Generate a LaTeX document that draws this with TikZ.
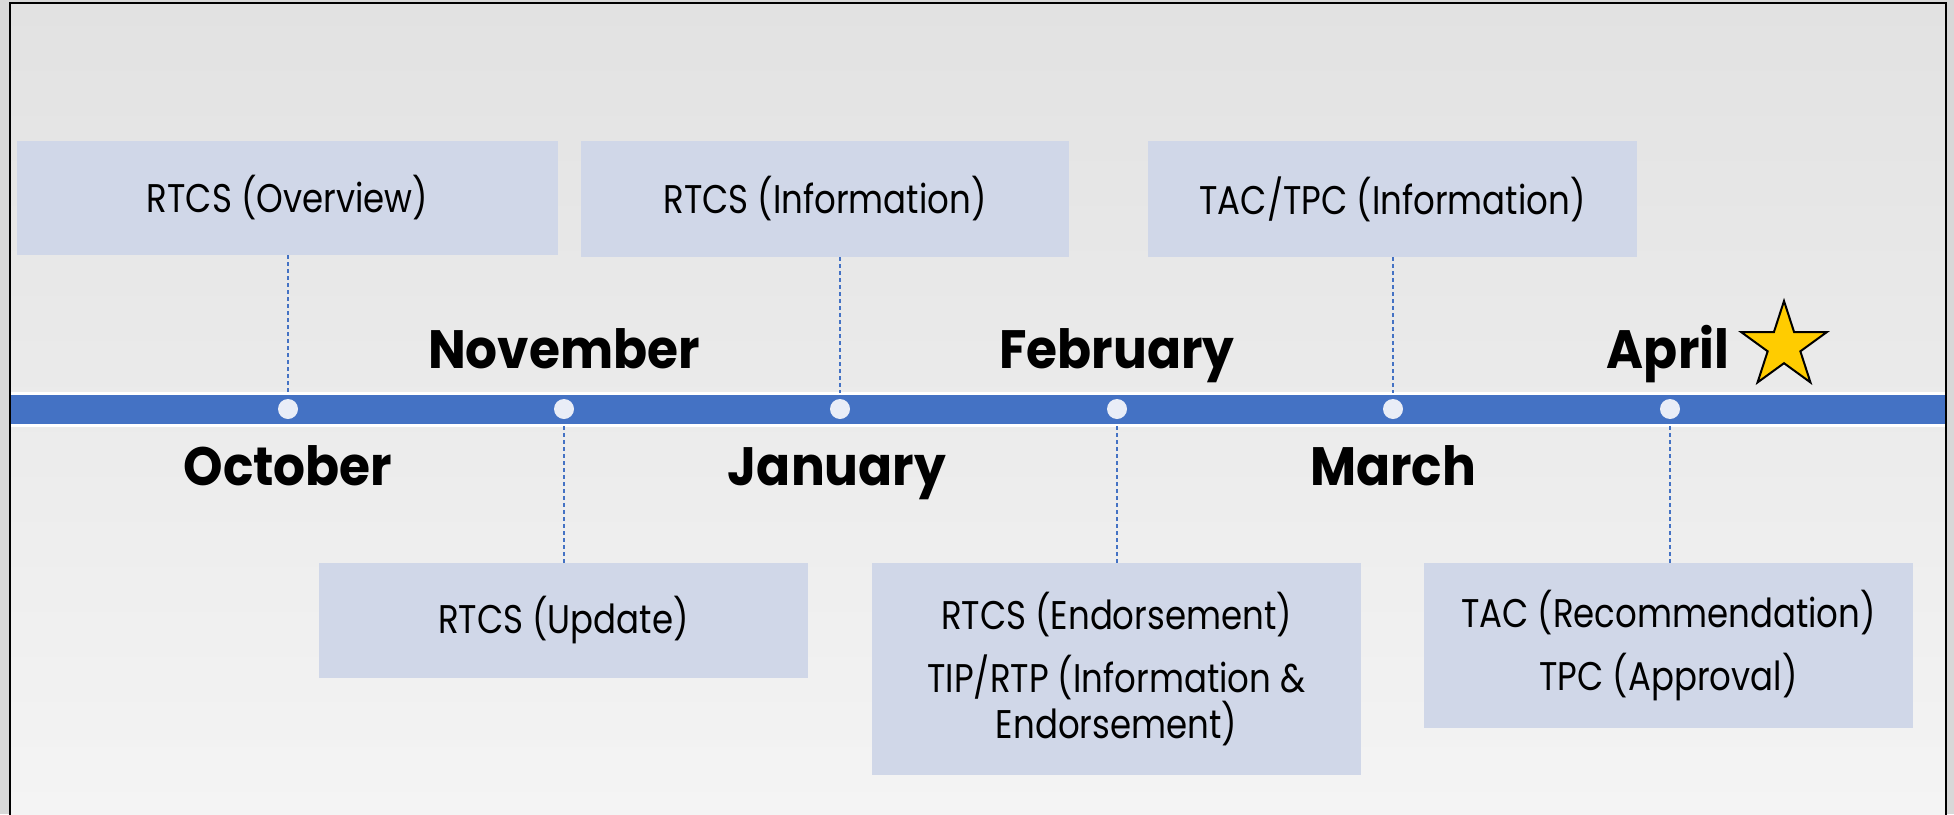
\documentclass[tikz,border=0pt]{standalone}
\usepackage{fontspec}
\setmainfont{Poppins}[FakeStretch=0.85]
\newfontfamily\monthfont{Poppins}[FakeStretch=0.93]
\usetikzlibrary{shapes.geometric}
\definecolor{bgtop}{RGB}{226,226,226}
\definecolor{bgbot}{RGB}{244,244,244}
\definecolor{outerbg}{RGB}{216,216,216}
\definecolor{boxfill}{RGB}{208,215,232}
\definecolor{barblue}{RGB}{68,114,196}
\definecolor{dotfill}{RGB}{233,237,247}
\definecolor{stary}{RGB}{255,204,0}
\tikzset{
  tbox/.style={fill=boxfill, inner sep=0pt, align=center, font=\fontsize{40}{43}\selectfont},
  month/.style={font=\monthfont\fontsize{54}{54}\selectfont\bfseries, anchor=base, inner sep=0pt},
  dot/.style={circle, fill=dotfill, minimum size=20pt, inner sep=0pt},
  conn/.style={barblue, line width=1.5pt, dash pattern=on 4pt off 3pt},
}
\begin{document}
\begin{tikzpicture}[x=1pt,y=-1pt]
\useasboundingbox (0,0) rectangle (1954,814);
% background
\fill[outerbg] (0,0) rectangle (1954,814);
\shade[top color=bgtop, bottom color=bgbot] (10,3) rectangle (1946,814);
\draw[line width=2pt] (10,830) -- (10,3) -- (1946,3) -- (1946,830);
% bar
\coordinate (bartop) at (0,393);
\coordinate (barbot) at (0,426);
\fill[white] (11,392) rectangle (1945,427);
\fill[barblue] (11,395) rectangle (1945,424);
% dots
\node[dot] (d1) at (288,409) {};
\node[dot] (d2) at (564,409) {};
\node[dot] (d3) at (840,409) {};
\node[dot] (d4) at (1117,409) {};
\node[dot] (d5) at (1393,409) {};
\node[dot] (d6) at (1670,409) {};
% boxes
\node[tbox, minimum width=541pt, minimum height=114pt] (b1) at (287.5,198) {RTCS (Overview)};
\node[tbox, minimum width=488pt, minimum height=116pt] (b2) at (825,199) {RTCS (Information)};
\node[tbox, minimum width=489pt, minimum height=116pt] (b3) at (1392.5,199) {TAC/TPC (Information)};
\node[tbox, minimum width=489pt, minimum height=115pt] (b4) at (563.5,620.5) {RTCS (Update)};
\node[tbox, minimum width=489pt, minimum height=212pt] (b5) at (1116.5,669) {RTCS (Endorsement)\\[17pt]TIP/RTP (Information \&\\Endorsement)};
\node[tbox, minimum width=489pt, minimum height=165pt] (b6) at (1668.5,645.5) {TAC (Recommendation)\\[17pt]TPC (Approval)};
% connectors
\draw[conn] (b1.south -| d1) -- (d1 |- bartop);
\draw[conn] (b2.south -| d3) -- (d3 |- bartop);
\draw[conn] (b3.south -| d5) -- (d5 |- bartop);
\draw[conn] (d2 |- barbot) -- (b4.north -| d2);
\draw[conn] (d4 |- barbot) -- (b5.north -| d4);
\draw[conn] (d6 |- barbot) -- (b6.north -| d6);
% months
\node[month] (oct) at (288,485) {October};
\node[month] (nov) at (564,368) {November};
\node[month] (jan) at (837,485) {January};
\node[month] (feb) at (1117,368) {February};
\node[month] (mar) at (1393,485) {March};
\node[month] (apr) at (1668,368) {April};
\node[star, star points=5, star point ratio=2.618, minimum size=90pt, inner sep=0pt, fill=stary, draw=black, line width=2pt] (star) at (1784,346) {};
\end{tikzpicture}
\end{document}
